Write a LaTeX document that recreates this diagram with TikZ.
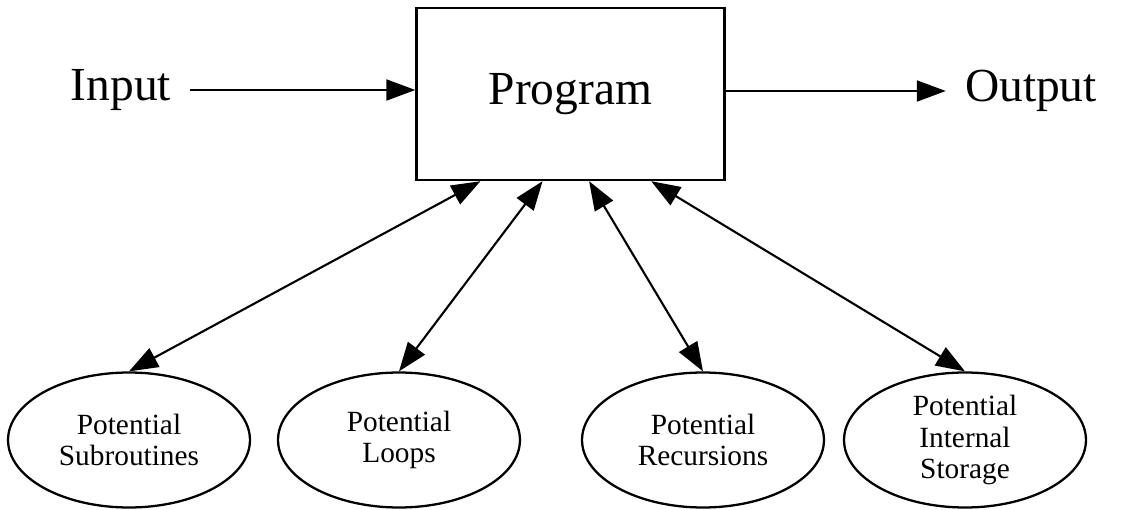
\documentclass[tikz,border=0pt]{standalone}
\usepackage{fontspec}
\setmainfont{Liberation Serif}
\usetikzlibrary{calc,
	shapes,
	arrows.meta}
\tikzstyle{prg}=[draw, line width=1.4pt, minimum width=6.16cm, minimum height=3.44cm,
		inner sep=0, font=\fontsize{27}{30}\selectfont]
\tikzstyle{io}=[inner sep=0.38cm, font=\fontsize{27}{30}\selectfont]
\tikzstyle{pot}=[draw, ellipse, line width=1.3pt, minimum width=4.84cm, minimum height=2.7cm,
		inner sep=0, align=center, font=\fontsize{16.7}{18}\selectfont]
\tikzstyle{flow}=[line width=1.2pt, -{Triangle[length=0.58cm, width=0.42cm]}]
\tikzstyle{link}=[line width=1.2pt, {Triangle[length=0.58cm, width=0.42cm]}-{Triangle[length=0.58cm, width=0.42cm]}]

\begin{document}
\begin{tikzpicture}[x=0.02cm, y=-0.02cm]
            \useasboundingbox (0,0) rectangle (1130,510);
            \node[prg] (prog) at (570.5,94) {Program};
            \node[io] (input) at (121,90) {Input};
            \node[io] (output) at (1031,91) {Output};
            \node[pot] (sub) at (129,440) {Potential\\Subroutines};
            \node[pot] (loop) at (399,440) {Potential\\Loops};
            \node[pot] (rec) at (703,440) {Potential\\Recursions};
            \node[pot] (stor) at (965,440) {Potential\\Internal\\Storage};
            \draw[flow] (input) -- (input -| prog.west);
            \draw[flow] (output -| prog.east) -- (output);
            \draw[link] ($(prog.south west)!0.21!(prog.south east)$) -- (sub.north);
            \draw[link] ($(prog.south west)!0.41!(prog.south east)$) -- (loop.north);
            \draw[link] ($(prog.south west)!0.56!(prog.south east)$) -- (rec.north);
            \draw[link] ($(prog.south west)!0.76!(prog.south east)$) -- (stor.north);
        \end{tikzpicture}
\end{document}
